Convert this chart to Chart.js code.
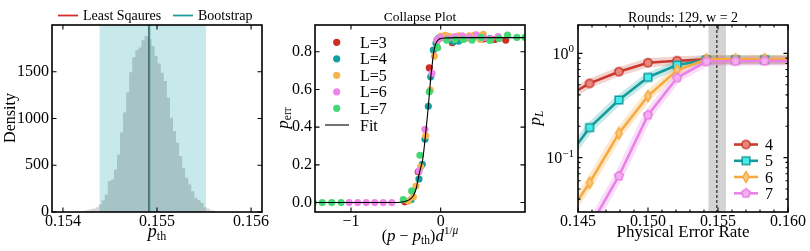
<!DOCTYPE html>
<html><head><meta charset="utf-8">
<script src="https://cdn.jsdelivr.net/npm/chart.js@4.4.0/dist/chart.umd.min.js"></script>
<style>
html,body{margin:0;padding:0;background:#fff;width:810px;height:251px;overflow:hidden;position:relative}
canvas{position:absolute;top:0}
</style></head><body>
<canvas id="c1" width="270" height="251" style="left:0px"></canvas>
<canvas id="c2" width="270" height="251" style="left:270px"></canvas>
<canvas id="c3" width="282" height="251" style="left:528px"></canvas>
<script>
// ---------- Panel 1: histogram of p_th ----------
const histCenters = [0.1542060,0.1542385,0.1542710,0.1543035,0.1543360,0.1543685,0.1544010,0.1544335,0.1544660,0.1544985,
  0.1545310,0.1545635,0.1545960,0.1546285,0.1546610,0.1546935,0.1547260,0.1547585,0.1547910,0.1548235,
  0.1548560,0.1548885,0.1549210,0.1549535,0.1549860,0.1550185,0.1550510,0.1550835,0.1551160,0.1551485,
  0.1551810,0.1552135,0.1552460,0.1552785,0.1553110,0.1553435,0.1553760,0.1554085,0.1554410,0.1554735,
  0.1555060,0.1555385,0.1555710,0.1556035];
const histCounts = [3,8,15,25,30,45,75,118,182,325,343,450,610,846,1060,1274,1489,1650,1724,1753,
  1831,1878,1842,1770,1663,1582,1485,1396,1218,1003,860,736,592,468,361,289,217,146,121,93,46,32,15,8];
const lsqThreshold = 0.154911;
const bootThreshold = 0.15492;
const bootLow = 0.15439;
const bootHigh = 0.15552;
const histXTicks = [0.154, 0.155, 0.156];
const histXTickLabels = ['0.154', '0.155', '0.156'];
const histYTicks = [0, 500, 1000, 1500];
const histYTickLabels = ['0', '500', '1000', '1500'];
const histLegend = ['Least Sqaures', 'Bootstrap'];

// ---------- Panel 2: collapse plot ----------
const cpNames = ['L=3', 'L=4', 'L=5', 'L=6', 'L=7'];
const cpL3x = [-0.40,-0.25,-0.127,-0.02,0.13,0.22,0.36,0.48,0.60,0.725];
const cpL3y = [0.004,0.163,0.715,0.87,0.848,0.88,0.875,0.868,0.865,0.862];
const cpL4x = [-0.33,-0.242,-0.205,-0.175,-0.138,-0.111,-0.082,-0.052,-0.02,0.02,0.08,0.14,0.2,0.28,0.36,0.45,0.55];
const cpL4y = [0.015,0.125,0.203,0.336,0.511,0.667,0.809,0.845,0.872,0.878,0.882,0.855,0.856,0.872,0.878,0.868,0.87];
const cpL5x = [-0.36,-0.305,-0.275,-0.223,-0.167,-0.116,-0.071,-0.04,0.0,0.05,0.1,0.15,0.2,0.26,0.32,0.38,0.44,0.475];
const cpL5y = [0.008,0.03,0.088,0.189,0.354,0.596,0.777,0.86,0.882,0.887,0.88,0.875,0.885,0.87,0.884,0.888,0.866,0.892];
const cpL6x = [-1.02,-0.925,-0.83,-0.735,-0.64,-0.545,-0.242,-0.175,-0.097,-0.045,0.0,0.08,0.16,0.24,0.32,0.4,0.48,0.56,0.64];
const cpL6y = [0,0,0,0,0,0,0.168,0.389,0.685,0.862,0.876,0.87,0.88,0.885,0.876,0.89,0.875,0.868,0.88];
const cpL7x = [-1.42,-1.32,-1.215,-1.11,-0.417,-0.323,-0.231,-0.127,-0.034,0.067,0.16,0.25,0.35,0.45,0.55,0.65,0.745,0.85,0.94];
const cpL7y = [0,0,0,0,0.016,0.062,0.251,0.588,0.821,0.862,0.865,0.865,0.862,0.876,0.86,0.87,0.889,0.876,0.876];
const fitX = [-1.4,-0.6,-0.45,-0.38,-0.34,-0.30,-0.27,-0.25,-0.22,-0.20,-0.175,-0.15,-0.138,-0.127,-0.111,-0.095,-0.08,-0.06,-0.04,-0.02,0.0,0.05,0.2,0.5,0.94];
const fitY = [0,0,0.002,0.008,0.018,0.04,0.08,0.13,0.19,0.23,0.33,0.45,0.51,0.57,0.66,0.73,0.79,0.835,0.855,0.866,0.87,0.873,0.875,0.875,0.875];
const cpXTicks = [-1, 0];
const cpXTickLabels = ['\u22121', '0'];
const cpYTicks = [0, 0.2, 0.4, 0.6, 0.8];
const cpYTickLabels = ['0.0', '0.2', '0.4', '0.6', '0.8'];

// ---------- Panel 3: logical error rate ----------
const p3X = [0.14375,0.14583,0.14792,0.15,0.15208,0.15417,0.15625,0.15833,0.16042];
const p3L4 = [0.355,0.515,0.667,0.813,0.85,0.87,0.865,0.865,0.865];
const p3L5 = [0.081,0.194,0.357,0.589,0.772,0.865,0.87,0.87,0.87];
const p3L6 = [0.022,0.0574,0.171,0.39,0.69,0.875,0.875,0.88,0.88];
const p3L7 = [0.0075,0.0216,0.0667,0.256,0.584,0.835,0.84,0.845,0.845];
const p3Labels = ['4', '5', '6', '7'];
const p3Threshold = 0.15492;
const p3ThLow = 0.15432;
const p3ThHigh = 0.15557;
const p3XTicks = [0.145, 0.150, 0.155, 0.160];
const p3XTickLabels = ['0.145', '0.150', '0.155', '0.160'];
const p3XMinor = [0.146,0.147,0.148,0.149,0.151,0.152,0.153,0.154,0.156,0.157,0.158,0.159];
const p3YTicks = [0.1, 1];
const p3YTickLabels = [['10', '\u22121'], ['10', '0']];
const p3YMinor = [0.04,0.05,0.06,0.07,0.08,0.09,0.2,0.3,0.4,0.5,0.6,0.7,0.8,0.9];

// ---------- helpers ----------
const SERIF = '"Liberation Serif", "DejaVu Serif", serif';
const TICK = 16;
function F(size, italic) { return (italic ? 'italic ' : '') + size + 'px ' + SERIF; }
function rich(ctx, parts, x, y, align, angle) {
  ctx.save();
  ctx.translate(x, y);
  if (angle) ctx.rotate(angle);
  let w = 0;
  for (const p of parts) { ctx.font = p[1]; w += ctx.measureText(p[0]).width; }
  let cx = align === 'center' ? -w / 2 : (align === 'right' ? -w : 0);
  ctx.fillStyle = '#000';
  ctx.textBaseline = 'alphabetic';
  ctx.textAlign = 'left';
  for (const p of parts) { ctx.font = p[1]; ctx.fillText(p[0], cx, p[2] || 0); cx += ctx.measureText(p[0]).width; }
  ctx.restore();
}
function frameTicks(chart, t) {
  const ctx = chart.ctx, a = chart.chartArea, xs = chart.scales.x, ys = chart.scales.y;
  ctx.save();
  ctx.strokeStyle = '#000';
  ctx.lineWidth = 1.1;
  ctx.beginPath();
  const seg = (x1, y1, x2, y2) => { ctx.moveTo(x1, y1); ctx.lineTo(x2, y2); };
  const X = (v, L) => { const p = xs.getPixelForValue(v); seg(p, a.bottom, p, a.bottom - L); seg(p, a.top, p, a.top + L); };
  const Y = (v, L) => { const p = ys.getPixelForValue(v); seg(a.left, p, a.left + L, p); seg(a.right, p, a.right - L, p); };
  (t.xMajor || []).forEach(v => X(v, 4.5));
  (t.xMinor || []).forEach(v => X(v, 2.5));
  (t.yMajor || []).forEach(v => Y(v, 4.5));
  (t.yMinor || []).forEach(v => Y(v, 2.5));
  ctx.stroke();
  ctx.lineWidth = 1.6;
  ctx.strokeRect(a.left, a.top, a.right - a.left, a.bottom - a.top);
  ctx.restore();
}
function linScale(min, max, ticks, labels, size, fit, pad) {
  return {
    type: 'linear', min: min, max: max, bounds: 'data', offset: false,
    grid: { display: false, drawTicks: false }, border: { display: false },
    afterBuildTicks: s => { s.ticks = ticks.map(v => ({ value: v })); },
    afterFit: fit,
    ticks: { font: { family: SERIF, size: size }, color: '#000', padding: pad, maxRotation: 0, minRotation: 0, autoSkip: false,
      callback: (v, i) => labels[i] }
  };
}
function marker(shape, fill, stroke) {
  const c = document.createElement('canvas');
  c.width = 16; c.height = 16;
  const g = c.getContext('2d');
  g.translate(8, 8);
  g.beginPath();
  if (shape === 'circle') g.arc(0, 0, 4.1, 0, 2 * Math.PI);
  else if (shape === 'square') g.rect(-3.8, -3.8, 7.6, 7.6);
  else if (shape === 'thin') { g.moveTo(0, -5.6); g.lineTo(3.2, 0); g.lineTo(0, 5.6); g.lineTo(-3.2, 0); g.closePath(); }
  else {
    for (let k = 0; k < 5; k++) {
      const an = -Math.PI / 2 + k * 2 * Math.PI / 5;
      const px = 4.6 * Math.cos(an), py = 4.6 * Math.sin(an);
      if (k) g.lineTo(px, py); else g.moveTo(px, py);
    }
    g.closePath();
  }
  g.fillStyle = fill; g.fill();
  g.lineWidth = 1.5; g.strokeStyle = stroke; g.stroke();
  return c;
}
Chart.defaults.animation = false;
Chart.defaults.devicePixelRatio = 1;

// ---------- Chart 1 ----------
new Chart(document.getElementById('c1'), {
  type: 'bar',
  data: { datasets: [{
    data: histCenters.map((x, i) => ({ x: x, y: histCounts[i] })),
    backgroundColor: 'rgb(212,214,214)', borderWidth: 0, inflateAmount: 0.5,
    barPercentage: 1, categoryPercentage: 1, grouped: false
  }] },
  options: {
    responsive: false, animation: false,
    layout: { padding: { top: 25, right: 8, left: 0, bottom: 0 } },
    plugins: { legend: { display: false }, tooltip: { enabled: false } },
    scales: {
      x: linScale(0.153884, 0.156116, histXTicks, histXTickLabels, TICK, s => { s.height = 39; }, 0),
      y: linScale(0, 2000, histYTicks, histYTickLabels, TICK, s => { s.width = 52; }, 3)
    }
  },
  plugins: [{
    id: 'p1',
    afterDatasetsDraw(chart) {
      const ctx = chart.ctx, a = chart.chartArea, xs = chart.scales.x;
      ctx.save();
      ctx.beginPath(); ctx.rect(a.left, a.top, a.right - a.left, a.bottom - a.top); ctx.clip();
      ctx.globalCompositeOperation = 'multiply';
      const l = xs.getPixelForValue(bootLow), r = xs.getPixelForValue(bootHigh);
      ctx.fillStyle = 'rgb(200,233,236)';
      ctx.fillRect(l, a.top, r - l, a.bottom - a.top);
      ctx.globalCompositeOperation = 'source-over';
      ctx.lineWidth = 1.1;
      ctx.strokeStyle = 'rgba(80,70,70,0.9)';
      let p = xs.getPixelForValue(lsqThreshold);
      ctx.beginPath(); ctx.moveTo(p, a.top); ctx.lineTo(p, a.bottom); ctx.stroke();
      ctx.lineWidth = 1.6;
      ctx.strokeStyle = 'rgba(31,156,160,0.92)';
      p = xs.getPixelForValue(bootThreshold);
      ctx.beginPath(); ctx.moveTo(p, a.top); ctx.lineTo(p, a.bottom); ctx.stroke();
      ctx.restore();
    },
    afterDraw(chart) {
      const ctx = chart.ctx;
      frameTicks(chart, { xMajor: histXTicks, yMajor: histYTicks });
      // legend
      ctx.save();
      ctx.lineWidth = 1.8;
      ctx.strokeStyle = '#d62f2a';
      ctx.beginPath(); ctx.moveTo(58, 15.5); ctx.lineTo(78, 15.5); ctx.stroke();
      ctx.strokeStyle = '#1f9ca0';
      ctx.beginPath(); ctx.moveTo(173, 15.5); ctx.lineTo(193, 15.5); ctx.stroke();
      ctx.restore();
      rich(ctx, [[histLegend[0], F(14)]], 83, 20, 'left');
      rich(ctx, [[histLegend[1], F(14)]], 198, 20, 'left');
      // axis titles
      rich(ctx, [['p', F(18, true)], ['th', F(12), 3]], 157, 237, 'center');
      rich(ctx, [['Density', F(16)]], 15, 118, 'center', -Math.PI / 2);
    }
  }]
});

// ---------- Chart 2 ----------
const cpColors = ['#cf2e27', '#179ea2', '#f9b24e', '#ee84e8', '#43d873'];
const cpXs = [cpL3x, cpL4x, cpL5x, cpL6x, cpL7x];
const cpYs = [cpL3y, cpL4y, cpL5y, cpL6y, cpL7y];
const cpSets = cpXs.map((xs, k) => ({
  type: 'scatter',
  data: xs.map((x, i) => ({ x: x, y: cpYs[k][i] })),
  backgroundColor: cpColors[k], borderWidth: 0, pointRadius: 3.6, pointHoverRadius: 3.6,
  order: 5 - k, clip: 0
}));
cpSets.push({
  type: 'line', data: fitX.map((x, i) => ({ x: x, y: fitY[i] })),
  borderColor: '#000', borderWidth: 1.1, pointRadius: 0, cubicInterpolationMode: 'monotone',
  fill: false, order: 0, clip: 0
});
new Chart(document.getElementById('c2'), {
  type: 'scatter',
  data: { datasets: cpSets },
  options: {
    responsive: false, animation: false,
    layout: { padding: { top: 25, right: 15, left: 0, bottom: 0 } },
    plugins: { legend: { display: false }, tooltip: { enabled: false } },
    scales: {
      x: linScale(-1.401, 0.94, cpXTicks, cpXTickLabels, TICK, s => { s.height = 39; }, 0),
      y: linScale(-0.05, 0.942, cpYTicks, cpYTickLabels, TICK, s => { s.width = 45; }, 3)
    }
  },
  plugins: [{
    id: 'p2',
    afterDraw(chart) {
      const ctx = chart.ctx;
      frameTicks(chart, { xMajor: cpXTicks, yMajor: cpYTicks });
      // legend
      const rows = [42.3, 58.8, 75.3, 91.8, 108.3];
      ctx.save();
      cpNames.forEach((n, k) => {
        ctx.fillStyle = cpColors[k];
        ctx.beginPath(); ctx.arc(66.7, rows[k], 3.6, 0, 2 * Math.PI); ctx.fill();
        rich(ctx, [[n, F(16)]], 90, rows[k] + 5.5, 'left');
      });
      ctx.strokeStyle = '#000'; ctx.lineWidth = 1.1;
      ctx.beginPath(); ctx.moveTo(55, 125); ctx.lineTo(79, 125); ctx.stroke();
      ctx.restore();
      rich(ctx, [['Fit', F(16)]], 90, 130.5, 'left');
      // title and axis titles
      rich(ctx, [['Collapse Plot', F(13.5)]], 150, 21, 'center');
      rich(ctx, [['(', F(16)], ['p', F(17, true)], [' \u2212 ', F(16)], ['p', F(17, true)], ['th', F(11.5), 3],
                 [')', F(16)], ['d', F(17, true)], ['1/', F(11), -7], ['\u03bc', F(11.5, true), -7]], 150, 241, 'center');
      rich(ctx, [['p', F(17, true)], ['err', F(11.5), 3]], 17.5, 118, 'center', -Math.PI / 2);
    }
  }]
});

// ---------- Chart 3 ----------
const p3Line = ['#c9392e', '#149c9c', '#f6aa40', '#e981e6'];
const p3Band = ['rgba(205,70,60,0.24)', 'rgba(25,165,165,0.24)', 'rgba(246,170,64,0.26)', 'rgba(233,129,230,0.26)'];
const p3Marks = [marker('circle', '#ea877c', '#c9392e'), marker('square', '#45ecec', '#149c9c'),
                 marker('thin', '#fcc77e', '#f6aa40'), marker('pent', '#f3aef0', '#e981e6')];
const p3Vals = [p3L4, p3L5, p3L6, p3L7];
const p3Sets = [];
p3Vals.forEach((vals, k) => {
  p3Sets.push({
    data: p3X.map((x, i) => ({ x: x, y: vals[i] })),
    borderColor: p3Band[k], borderWidth: 9, pointRadius: 0, fill: false, order: 20 - k, clip: 0,
    borderJoinStyle: 'round', borderCapStyle: 'round'
  });
});
p3Vals.forEach((vals, k) => {
  p3Sets.push({
    data: p3X.map((x, i) => ({ x: x, y: vals[i] })),
    borderColor: p3Line[k], borderWidth: 2.6, pointStyle: p3Marks[k], pointRadius: 4, pointHoverRadius: 4,
    fill: false, order: 10 - k, clip: 0, borderJoinStyle: 'round'
  });
});
new Chart(document.getElementById('c3'), {
  type: 'line',
  data: { datasets: p3Sets },
  options: {
    responsive: false, animation: false,
    layout: { padding: { top: 25, right: 22, left: 0, bottom: 0 } },
    plugins: { legend: { display: false }, tooltip: { enabled: false } },
    scales: {
      x: linScale(0.145, 0.160, p3XTicks, p3XTickLabels, TICK, s => { s.height = 39; }, 0),
      y: {
        type: 'logarithmic', min: 0.0301, max: 1.87, bounds: 'data',
        grid: { display: false, drawTicks: false }, border: { display: false },
        ticks: { display: false },
        afterBuildTicks: s => { s.ticks = p3YTicks.map(v => ({ value: v })); },
        afterFit: s => { s.width = 50; }
      }
    }
  },
  plugins: [{
    id: 'p3',
    beforeDatasetsDraw(chart) {
      const ctx = chart.ctx, a = chart.chartArea, xs = chart.scales.x;
      ctx.save();
      const l = xs.getPixelForValue(p3ThLow), r = xs.getPixelForValue(p3ThHigh);
      ctx.fillStyle = 'rgba(150,150,150,0.42)';
      ctx.fillRect(l, a.top, r - l, a.bottom - a.top);
      const p = xs.getPixelForValue(p3Threshold);
      ctx.strokeStyle = '#000'; ctx.lineWidth = 1; ctx.setLineDash([3, 2]);
      ctx.beginPath(); ctx.moveTo(p, a.top); ctx.lineTo(p, a.bottom); ctx.stroke();
      ctx.restore();
    },
    afterDraw(chart) {
      const ctx = chart.ctx, ys = chart.scales.y;
      frameTicks(chart, { xMajor: p3XTicks, xMinor: p3XMinor, yMajor: p3YTicks, yMinor: p3YMinor });
      p3YTicks.forEach((v, i) => {
        const py = ys.getPixelForValue(v);
        rich(ctx, [[p3YTickLabels[i][0], F(16)], [p3YTickLabels[i][1], F(11), -6.5]], 46, py + 5.5, 'right');
      });
      // legend
      const rows = [144.5, 160.8, 177, 193.3];
      p3Labels.forEach((n, k) => {
        ctx.save();
        ctx.strokeStyle = p3Line[k]; ctx.lineWidth = 2.6;
        ctx.beginPath(); ctx.moveTo(206, rows[k]); ctx.lineTo(230, rows[k]); ctx.stroke();
        ctx.drawImage(p3Marks[k], 218 - 8, rows[k] - 8);
        ctx.restore();
        rich(ctx, [[n, F(16)]], 237, rows[k] + 5.5, 'left');
      });
      rich(ctx, [['Rounds: 129, w = 2', F(14)]], 155, 21.5, 'center');
      rich(ctx, [['Physical Error Rate', F(17)]], 155, 237, 'center');
      rich(ctx, [['p', F(17, true)], ['L', F(11.5, true), 3]], 12, 118, 'center', -Math.PI / 2);
    }
  }]
});
</script>
</body></html>
